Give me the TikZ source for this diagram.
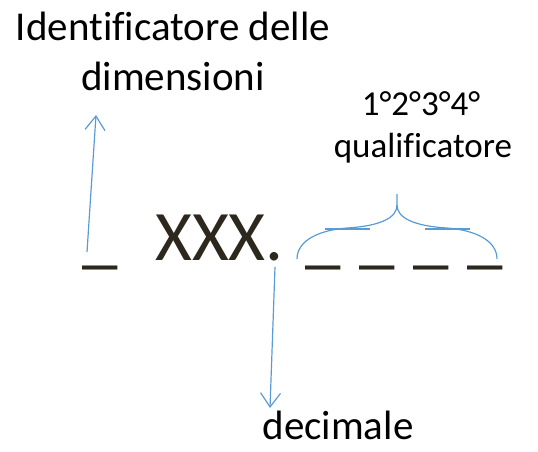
\documentclass[tikz,border=0pt]{standalone}
\usepackage{fontspec}
\setmainfont{Carlito}[Ligatures=NoCommon]
\definecolor{OfficeBlue}{RGB}{91,155,213}
\definecolor{CodeInk}{RGB}{44,40,30}
\usetikzlibrary{arrows.meta}

\begin{document}
\begin{tikzpicture}[x=1pt, y=-1pt,
  label/.style={inner sep=0pt, anchor=base, font=\fontsize{41}{41}\selectfont},
  small/.style={inner sep=0pt, anchor=base, font=\fontsize{35}{35}\selectfont},
  big/.style={inner sep=0pt, anchor=base west, text=CodeInk, font=\fontsize{71}{71}\selectfont},
  arrow/.style={-{Straight Barb[length=14pt, width=20pt]}, OfficeBlue, line width=1.2pt},
  brace/.style={OfficeBlue, line width=1.2pt}
]
\useasboundingbox (0,0) rectangle (538,451);

% Labels
\node[label] (idtxt) at (173,40) {Identificatore delle};
\node[label] (dimtxt) at (173,90) {dimensioni};
\node[small] (ordtxt) at (421,115) {1°2°3°4°};
\node[small] (qualtxt) at (423,157) {qualificatore};
\node[label] (dectxt) at (338,439) {decimale};

% Code
\node[big] (dim) at (82,260) {\_};
\node[big] (code) at (155,260) {XXX.};
\node[big] (q1) at (305,260) {\_};
\node[big] (q2) at (359,260) {\_};
\node[big] (q3) at (413,260) {\_};
\node[big] (q4) at (467,260) {\_};

% Arrow ends
\coordinate (dimfoot) at (87,252);
\coordinate (dimhead) at (96,115);
\coordinate (decfoot) at (275,267);
\coordinate (dechead) at (270,408);

% Arrows
\draw[arrow] (dimfoot) -- (dimhead);
\draw[arrow] (decfoot) -- (dechead);

% Brace over the qualifier
\draw[brace] (297,259) .. controls (297,240) and (320,230) .. (347,228)
  .. controls (380,226) and (397,218) .. (397,205) -- (397,194);
\draw[brace] (497,259) .. controls (497,240) and (474,230) .. (447,228)
  .. controls (414,226) and (397,218) .. (397,205);
\draw[brace] (325,229) -- (370,229);
\draw[brace] (425,229) -- (470,229);

\end{tikzpicture}
\end{document}
